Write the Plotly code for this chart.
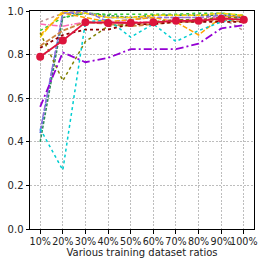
import plotly.graph_objects as go

ratios = ["10%", "20%", "30%", "40%", "50%", "60%", "70%", "80%", "90%", "100%"]
y_ticks = [0.0, 0.2, 0.4, 0.6, 0.8, 1.0]

s_blue = [0.44, 0.99, 0.99, 0.97, 0.97, 0.98, 0.98, 0.98, 0.99, 0.97]
s_green = [0.40, 0.97, 0.99, 0.98, 0.97, 0.98, 0.98, 0.98, 0.98, 0.97]
s_rosy = [0.95, 0.99, 0.99, 0.97, 0.97, 0.97, 0.97, 0.97, 0.97, 0.91]
s_lime = [0.91, 0.97, 0.99, 0.985, 0.985, 0.985, 0.985, 0.99, 0.99, 0.98]
s_gold = [0.88, 1.0, 0.99, 0.97, 0.97, 0.98, 0.98, 0.98, 0.99, 0.98]
s_slate = [0.45, 0.99, 1.0, 0.95, 0.96, 0.97, 0.97, 0.97, 0.98, 0.97]
s_orange = [0.89, 0.99, 0.97, 0.95, 0.96, 0.97, 0.95, 0.89, 0.97, 0.98]
s_pink = [0.94, 0.93, 0.95, 0.95, 0.95, 0.95, 0.96, 0.96, 0.97, 0.96]
s_peru = [0.84, 0.91, 0.95, 0.94, 0.93, 0.94, 0.95, 0.95, 0.96, 0.95]
s_darkred = [0.83, 0.89, 0.915, 0.915, 0.94, 0.94, 0.95, 0.95, 0.95, 0.95]
s_olive = [0.90, 0.68, 0.86, 0.93, 0.94, 0.95, 0.96, 0.96, 0.97, 0.97]
s_cyan = [0.46, 0.27, 0.95, 0.96, 0.88, 0.94, 0.86, 0.91, 0.95, 0.97]
s_violet = [0.56, 0.81, 0.765, 0.785, 0.825, 0.825, 0.825, 0.85, 0.92, 0.935]
s_red = [0.79, 0.865, 0.948, 0.945, 0.945, 0.948, 0.955, 0.955, 0.965, 0.96]

xs = list(range(len(ratios)))

series = [
    (s_blue, "royalblue", "3px,1.5px", 1.5),
    (s_green, "seagreen", "3px,1.5px", 1.5),
    (s_rosy, "rosybrown", "dot", 1.5),
    (s_lime, "limegreen", "dot", 1.5),
    (s_gold, "gold", "5px,2px", 1.5),
    (s_slate, "mediumpurple", "5px,2px", 1.5),
    (s_orange, "orange", "5px,2px", 1.5),
    (s_pink, "hotpink", "6px,2px,1.5px,2px", 1.5),
    (s_peru, "peru", "5px,2px", 1.8),
    (s_darkred, "darkred", "dot", 1.8),
    (s_olive, "olive", "dot", 1.5),
    (s_cyan, "darkturquoise", "dot", 1.5),
    (s_violet, "darkviolet", "8px,3px,2px,3px", 1.8),
]

fig = go.Figure()
for ys, col, dash, w in series:
    fig.add_trace(go.Scatter(x=xs, y=ys, mode="lines",
                             line=dict(color=col, dash=dash, width=w)))
fig.add_trace(go.Scatter(x=xs, y=s_red, mode="lines+markers",
                         line=dict(color="crimson", width=1.8),
                         marker=dict(color="crimson", size=8)))

fig.update_layout(
    width=264, height=266,
    margin=dict(l=30, r=10, t=11, b=37),
    paper_bgcolor="white", plot_bgcolor="white",
    showlegend=False,
    font=dict(family="DejaVu Sans", size=10, color="#222"),
)
fig.update_xaxes(
    tickmode="array", tickvals=xs, ticktext=ratios,
    range=[-0.45, 9.45], automargin=False,
    showgrid=True, gridcolor="#bdbdbd", griddash="2px,1.5px", gridwidth=0.7,
    showline=True, linecolor="black", linewidth=1, mirror=True,
    ticks="outside", ticklen=3.5, tickcolor="black", tickangle=0,
    tickfont=dict(size=9.6),
    zeroline=False,
    title=dict(text="Various training dataset ratios", standoff=2, font=dict(size=10)),
)
fig.update_yaxes(
    tickmode="array", tickvals=y_ticks, ticktext=[f"{v:.1f}" for v in y_ticks],
    range=[0, 1], automargin=False,
    showgrid=True, gridcolor="#bdbdbd", griddash="2px,1.5px", gridwidth=0.7,
    showline=True, linecolor="black", linewidth=1, mirror=True,
    ticks="outside", ticklen=3.5, tickcolor="black",
    tickfont=dict(size=10),
    zeroline=False,
)
fig.write_html("out.html", config={"displayModeBar": False},
               post_script="document.body.style.margin='0';document.body.style.padding='0';")
